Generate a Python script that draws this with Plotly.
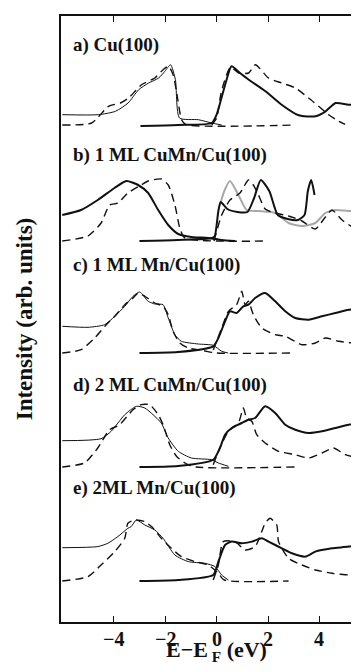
import plotly.graph_objects as go

# ---------------- data (energy E-E_F in eV, intensity in arb. units) ----------------
panel_labels = ["a) Cu(100)", "b) 1 ML CuMn/Cu(100)", "c) 1 ML Mn/Cu(100)",
                "d) 2 ML CuMn/Cu(100)", "e) 2ML Mn/Cu(100)"]
panel_offsets = [497, 381, 269, 155, 41]
label_levels = [577, 467, 357, 237, 134]

# panel a
a_occ_exp_E = [-6.0, -4.6, -3.93, -3.44, -3.03, -2.64, -2.25, -2.01, -1.79, -1.6, -1.44, -0.71, -0.19, 0.2]
a_occ_exp_I = [10.3, 10.3, 13.7, 22, 35.3, 42, 47, 53.7, 60.3, 45.3, 7, 5.3, 2, 0]
a_occ_calc_E = [-6.0, -4.86, -4.2, -3.74, -3.42, -2.92, -2.4, -2.08, -1.87, -1.69, -1.56, -1.36, -1.2, 3.07]
a_occ_calc_I = [0, 2, 18.7, 22, 27, 40.3, 47, 55.3, 58.7, 50.3, 33.7, 5.3, 0.5, 0]
a_unocc_exp_E = [-2.96, -1.5, -0.19, 0.0, 0.19, 0.39, 0.58, 0.91, 1.25, 1.9, 2.53, 3.19, 3.85, 4.24, 4.63, 5.14, 5.85]
a_unocc_exp_I = [-1, 0, 2, 10.3, 27, 45.3, 58.7, 52, 45.3, 33.7, 20.3, 9.7, 8.7, 13.7, 22, 20.3, 20.3]
a_unocc_calc_E = [-0.19, 0.0, 0.19, 0.54, 0.86, 1.25, 1.51, 2.02, 2.53, 3.07, 3.58, 3.97, 4.36, 4.75, 5.0]
a_unocc_calc_I = [0, 7, 33.7, 57.7, 52, 52, 60.3, 47, 42, 37, 27, 18.7, 10.3, 3.7, 0.7]

# panel b
b_occ_exp_E = [-6.0, -5.27, -4.62, -3.97, -3.51, -3.05, -2.66, -2.27, -1.88, -1.49, -0.98, -0.32, 0.2, 0.72]
b_occ_exp_I = [26, 31, 41, 53, 60, 56, 48, 31, 16, 7, 4, 3, 1, 0]
b_occ_calc_E = [-6.0, -5.0, -4.49, -4.16, -3.84, -3.45, -2.93, -2.66, -2.15, -1.88, -1.62, -1.43, -1.23, 1.95]
b_occ_calc_I = [0, 5, 18, 36, 38, 48, 56, 60, 62, 56, 36, 13, 3, 0]
b_unocc_exp_E = [-3.0, -1.5, -0.18, -0.07, 0.07, 0.16, 0.42, 0.81, 1.2, 1.46, 1.72, 2.05, 2.38, 2.77, 3.16, 3.42, 3.55, 3.68, 3.81]
b_unocc_exp_I = [0, 1, 3, 5, 30, 39, 32, 29, 29, 43, 61, 50, 26, 22, 21, 26, 50, 61, 46]
b_unocc_gray_E = [0.12, 0.3, 0.52, 0.85, 1.17, 1.63, 2.28, 2.8, 3.32, 3.84, 4.23, 4.62, 5.14, 5.66, 5.85]
b_unocc_gray_I = [35, 50, 60, 46, 31, 30, 28, 18, 15, 18, 28, 31, 30, 31, 31]
b_unocc_calc_E = [-0.1, 0.2, 0.52, 0.91, 1.24, 1.43, 1.63, 1.89, 2.28, 2.8, 3.32, 3.84, 4.23, 4.49, 4.88, 5.4, 5.85]
b_unocc_calc_I = [0, 26, 41, 48, 61, 56, 46, 32, 28, 25, 20, 12, 24, 31, 21, 12, 5]

# panel c
c_occ_exp_E = [-6.0, -5.0, -4.35, -3.96, -3.57, -3.25, -2.99, -2.66, -2.4, -2.08, -1.88, -1.62, -1.37, -0.71, -0.13, 0.2, 0.45]
c_occ_exp_I = [26.7, 25.7, 28.3, 36.7, 46.7, 56.7, 61, 51.7, 49, 48.3, 35, 18.3, 11.7, 9, 7.7, 1.7, 0]
c_occ_calc_E = [-6.0, -5.27, -4.74, -4.29, -3.96, -3.57, -3.25, -3.05, -2.79, -2.4, -2.08, -1.88, -1.69, -1.43, -1.1, -0.5, 0.0, 2.86]
c_occ_calc_I = [0, 3.3, 15, 28.3, 36.7, 48.3, 55, 60, 56.7, 50, 46.7, 38.3, 21.7, 10, 5, 2.3, 0, 0]
c_unocc_exp_E = [-3.0, -1.5, -0.13, 0.07, 0.33, 0.52, 0.78, 1.04, 1.24, 1.5, 1.89, 2.28, 2.67, 3.06, 3.58, 4.1, 4.62, 5.14, 5.85]
c_unocc_exp_I = [0, 1, 6.7, 15, 31.7, 41.7, 40, 46.7, 48.3, 55, 60, 51.7, 41.7, 35, 33.3, 36.7, 40, 43.3, 45]
c_unocc_calc_E = [-0.13, 0.2, 0.46, 0.78, 0.98, 1.11, 1.24, 1.43, 1.76, 2.28, 2.67, 3.32, 3.84, 4.23, 4.75, 5.27, 5.85]
c_unocc_calc_I = [3, 25, 41.7, 48.3, 61.7, 48.3, 51.7, 38.3, 25, 18.3, 16.7, 8.3, 10, 15, 11.7, 10, 6.7]

# panel d
d_occ_exp_E = [-6.0, -4.49, -4.1, -3.57, -3.12, -2.79, -2.47, -2.15, -1.88, -1.49, -0.98, -0.2, 0.07, 0.46]
d_occ_exp_I = [26.3, 28.3, 35.7, 52.3, 60.7, 59, 52.3, 44, 29, 15.7, 9, 7.3, 4, 0.7]
d_occ_calc_E = [-6.0, -5.14, -4.62, -4.16, -3.77, -3.25, -2.93, -2.6, -2.27, -2.08, -1.82, -1.56, -1.23, -0.8, 3.06]
d_occ_calc_I = [0, 4, 19, 37.3, 42.3, 57.3, 62.3, 62.3, 52.3, 42.3, 22.3, 10.7, 4, 0, 0]
d_unocc_exp_E = [-3.0, -1.5, -0.13, 0.13, 0.33, 0.59, 0.98, 1.24, 1.5, 1.89, 2.28, 2.67, 3.06, 3.58, 4.1, 4.62, 5.14, 5.85]
d_unocc_exp_I = [0, 1, 7.3, 19, 32.3, 39, 44, 47.3, 49, 60.7, 54, 42.3, 37.3, 34, 35.7, 39, 42.3, 45.7]
d_unocc_calc_E = [-0.13, 0.13, 0.46, 0.85, 1.04, 1.17, 1.37, 1.56, 1.89, 2.41, 3.06, 3.58, 4.1, 4.55, 5.01, 5.85]
d_unocc_calc_I = [2.3, 19, 35.7, 44, 59, 49, 45.7, 32.3, 24, 15.7, 12.3, 9, 14, 19, 12.3, 7.3]

# panel e
e_occ_exp_E = [-6.0, -4.62, -4.23, -3.84, -3.45, -3.32, -3.12, -2.79, -2.4, -2.08, -1.62, -1.1, -0.45, -0.06, 0.2, 0.46]
e_occ_exp_I = [33.3, 34.4, 37.7, 44.4, 52.7, 54.4, 61, 56, 51, 42.7, 26, 19.4, 17.7, 14.4, 6, 1]
e_occ_calc_E = [-6.0, -5.0, -4.49, -3.96, -3.57, -3.45, -3.19, -2.79, -2.53, -2.15, -1.76, -1.37, -0.84, -0.32, 0.07, 0.3, 2.8]
e_occ_calc_I = [0, 4.4, 16, 29.4, 42.7, 57.7, 61, 59.4, 54.4, 42.7, 32.7, 24.4, 19.4, 16, 7.7, 1, 0]
e_unocc_exp_E = [-3.0, -1.5, -0.13, 0.07, 0.33, 0.59, 0.98, 1.37, 1.76, 2.02, 2.54, 2.93, 3.45, 3.84, 4.49, 5.14, 5.85]
e_unocc_exp_I = [0, 1, 6, 19.4, 36, 39.4, 37.7, 39.4, 42.7, 39.4, 32.7, 27.7, 24.4, 29.4, 32.7, 34.4, 37.7]
e_unocc_calc_E = [-0.13, 0.07, 0.26, 0.72, 1.11, 1.5, 1.89, 2.08, 2.34, 2.41, 2.8, 3.32, 3.84, 4.49, 5.14, 5.85]
e_unocc_calc_I = [1, 16, 39.4, 39.4, 31, 34.4, 57.7, 62.7, 56, 39.4, 22.7, 16, 11, 7.7, 6, 2.7]

x_ticks = [-4, -2, 0, 2, 4]
x_tick_labels = ["\u22124", "\u22122", "0", "2", "4"]

# ---------------- figure ----------------
BLACK = "#111111"
GRAY = "#a8a8a8"
DASH = "8px,5px"

fig = go.Figure()


def add(E, I, off, width, color=BLACK, dash="solid"):
    fig.add_trace(go.Scatter(
        x=E, y=[v + off for v in I], mode="lines",
        line=dict(color=color, width=width, dash=dash, shape="spline", smoothing=0.6),
        showlegend=False, hoverinfo="skip"))


panels = [
    (a_occ_exp_E, a_occ_exp_I, a_occ_calc_E, a_occ_calc_I, a_unocc_exp_E, a_unocc_exp_I, a_unocc_calc_E, a_unocc_calc_I),
    (b_occ_exp_E, b_occ_exp_I, b_occ_calc_E, b_occ_calc_I, b_unocc_exp_E, b_unocc_exp_I, b_unocc_calc_E, b_unocc_calc_I),
    (c_occ_exp_E, c_occ_exp_I, c_occ_calc_E, c_occ_calc_I, c_unocc_exp_E, c_unocc_exp_I, c_unocc_calc_E, c_unocc_calc_I),
    (d_occ_exp_E, d_occ_exp_I, d_occ_calc_E, d_occ_calc_I, d_unocc_exp_E, d_unocc_exp_I, d_unocc_calc_E, d_unocc_calc_I),
    (e_occ_exp_E, e_occ_exp_I, e_occ_calc_E, e_occ_calc_I, e_unocc_exp_E, e_unocc_exp_I, e_unocc_calc_E, e_unocc_calc_I),
]

for k, (oE, oI, ocE, ocI, uE, uI, ucE, ucI) in enumerate(panels):
    off = panel_offsets[k]
    if k == 1:
        add(b_unocc_gray_E, b_unocc_gray_I, off, 2.0, color=GRAY)
    add(ocE, ocI, off, 1.4, dash=DASH)
    add(ucE, ucI, off, 1.4, dash=DASH)
    add(oE, oI, off, 2.0 if k == 1 else 1.0)
    add(uE, uI, off, 2.0)

serif = "Liberation Serif, Times New Roman, serif"

for lab, yl in zip(panel_labels, label_levels):
    fig.add_annotation(x=-5.68, y=yl, xref="x", yref="y", text="<b>" + lab + "</b>",
                       showarrow=False, xanchor="left", yanchor="middle",
                       font=dict(family=serif, size=19, color=BLACK))

# bottom tick labels (bold), placed just under the axis
for t, tl in zip(x_ticks, x_tick_labels):
    fig.add_annotation(x=t, y=-0.028, xref="x", yref="paper", text="<b>" + tl + "</b>",
                       showarrow=False, xanchor="center", yanchor="middle",
                       font=dict(family=serif, size=20, color=BLACK))

fig.add_annotation(x=-0.12, y=0.5, xref="paper", yref="paper",
                   text="<b>Intensity (arb. units)</b>", textangle=-90,
                   showarrow=False, xanchor="center", yanchor="middle",
                   font=dict(family=serif, size=23, color=BLACK))
fig.add_annotation(x=0.0, y=-0.048, xref="x", yref="paper",
                   text="<b>E\u2212E<sub> F</sub> (eV)</b>",
                   showarrow=False, xanchor="center", yanchor="middle",
                   font=dict(family=serif, size=22, color=BLACK))

fig.update_layout(
    width=359, height=672,
    margin=dict(l=53, r=0, t=8, b=58),
    paper_bgcolor="white", plot_bgcolor="white",
    xaxis=dict(range=[-6.05, 5.85], tickvals=x_ticks, showticklabels=False,
               ticks="inside", ticklen=6, tickwidth=1.2, tickcolor=BLACK,
               showline=True, linewidth=2, linecolor=BLACK, mirror="ticks",
               showgrid=False, zeroline=False),
    yaxis=dict(range=[0, 606], showticklabels=False, ticks="",
               showline=True, linewidth=2, linecolor=BLACK,
               showgrid=False, zeroline=False),
)

fig.write_html("out.html")
